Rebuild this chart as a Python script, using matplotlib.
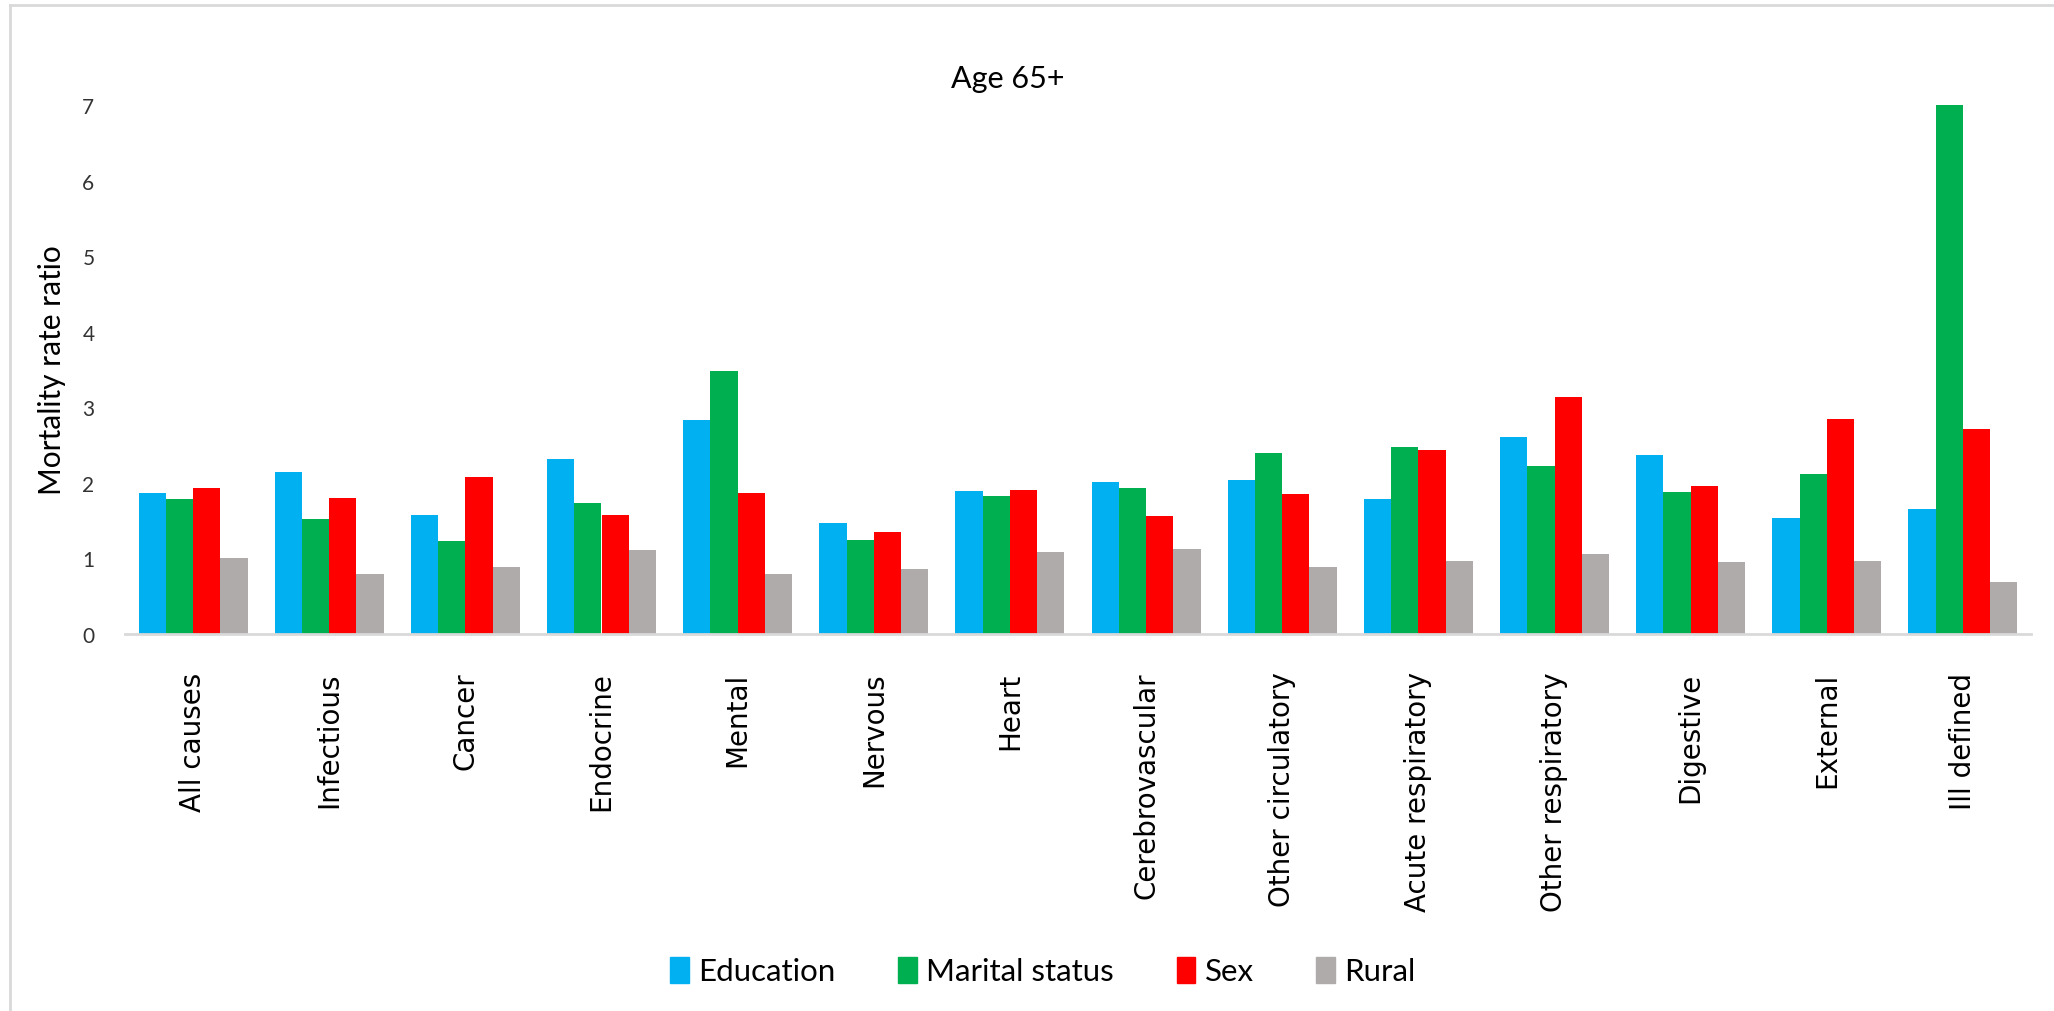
import matplotlib
matplotlib.use("Agg")
import matplotlib.pyplot as plt
import numpy as np
from matplotlib.lines import Line2D

categories = ["All causes", "Infectious", "Cancer", "Endocrine", "Mental", "Nervous",
              "Heart", "Cerebrovascular", "Other circulatory", "Acute respiratory",
              "Other respiratory", "Digestive", "External", "Ill defined"]
education = [1.86, 2.15, 1.58, 2.32, 2.83, 1.47, 1.89, 2.01, 2.04, 1.78, 2.61, 2.37, 1.54, 1.66]
marital = [1.78, 1.52, 1.23, 1.74, 3.48, 1.25, 1.82, 1.93, 2.40, 2.47, 2.22, 1.88, 2.12, 7.00]
sex = [1.93, 1.80, 2.08, 1.58, 1.87, 1.35, 1.91, 1.56, 1.85, 2.44, 3.13, 1.96, 2.84, 2.71]
rural = [1.00, 0.79, 0.88, 1.11, 0.79, 0.86, 1.08, 1.13, 0.89, 0.96, 1.06, 0.95, 0.96, 0.69]
series_names = ["Education", "Marital status", "Sex", "Rural"]
yticks = [0, 1, 2, 3, 4, 5, 6, 7]

colors = ["#00B0F0", "#00B050", "#FF0000", "#AFABAB"]

W, H = 2054, 1012
fig = plt.figure(figsize=(W / 100, H / 100), dpi=100)
ax = fig.add_axes([125 / W, 1 - 635 / H, (2031 - 125) / W, (635 - 106) / H])

x = np.arange(len(categories))
bw = 0.2
all_series = [education, marital, sex, rural]
for i, (vals, c, name) in enumerate(zip(all_series, colors, series_names)):
    ax.bar(x + (i - 1.5) * bw, vals, width=bw, color=c, label=name, linewidth=0)

ax.set_xlim(-0.5, len(categories) - 0.5)
ax.set_ylim(0, 7)
ax.set_yticks(yticks)
ax.set_yticklabels([str(v) for v in yticks], family="Lato", fontsize=15, color="#333333")
ax.set_xticks(x)
ax.set_xticklabels(categories, rotation=90, family="DejaVu Sans", fontsize=20,
                   va="top", ha="center")
ax.tick_params(axis="both", length=0)
ax.tick_params(axis="x", pad=27)
ax.tick_params(axis="y", pad=22)
for s in ["top", "right", "left"]:
    ax.spines[s].set_visible(False)
ax.spines["bottom"].set_color("#D9D9D9")
ax.spines["bottom"].set_linewidth(2)

ax.set_ylabel("Mortality rate ratio", family="Lato", fontsize=21.5, labelpad=12)

fig.text(1008 / W, 1 - 79 / H, "Age 65+", family="Lato", fontsize=22,
         ha="center", va="center")

handles = [plt.Rectangle((0, 0), 1, 1, color=c) for c in colors]
fig.legend(handles, series_names, loc="center", bbox_to_anchor=(1043 / W, 1 - 972 / H),
           ncol=4, frameon=False, prop={"family": "Lato", "size": 22.5},
           handlelength=0.6, handleheight=0.9, handletextpad=0.3, columnspacing=2.0)

# chart area border (left and top visible)
fig.add_artist(Line2D([10 / W, 10 / W], [0, 1 - 6 / H], transform=fig.transFigure,
                      color="#D9D9D9", linewidth=2))
fig.add_artist(Line2D([10 / W, 1], [1 - 6 / H, 1 - 6 / H], transform=fig.transFigure,
                      color="#D9D9D9", linewidth=2))

fig.savefig("out.png", dpi=100, facecolor="white")
